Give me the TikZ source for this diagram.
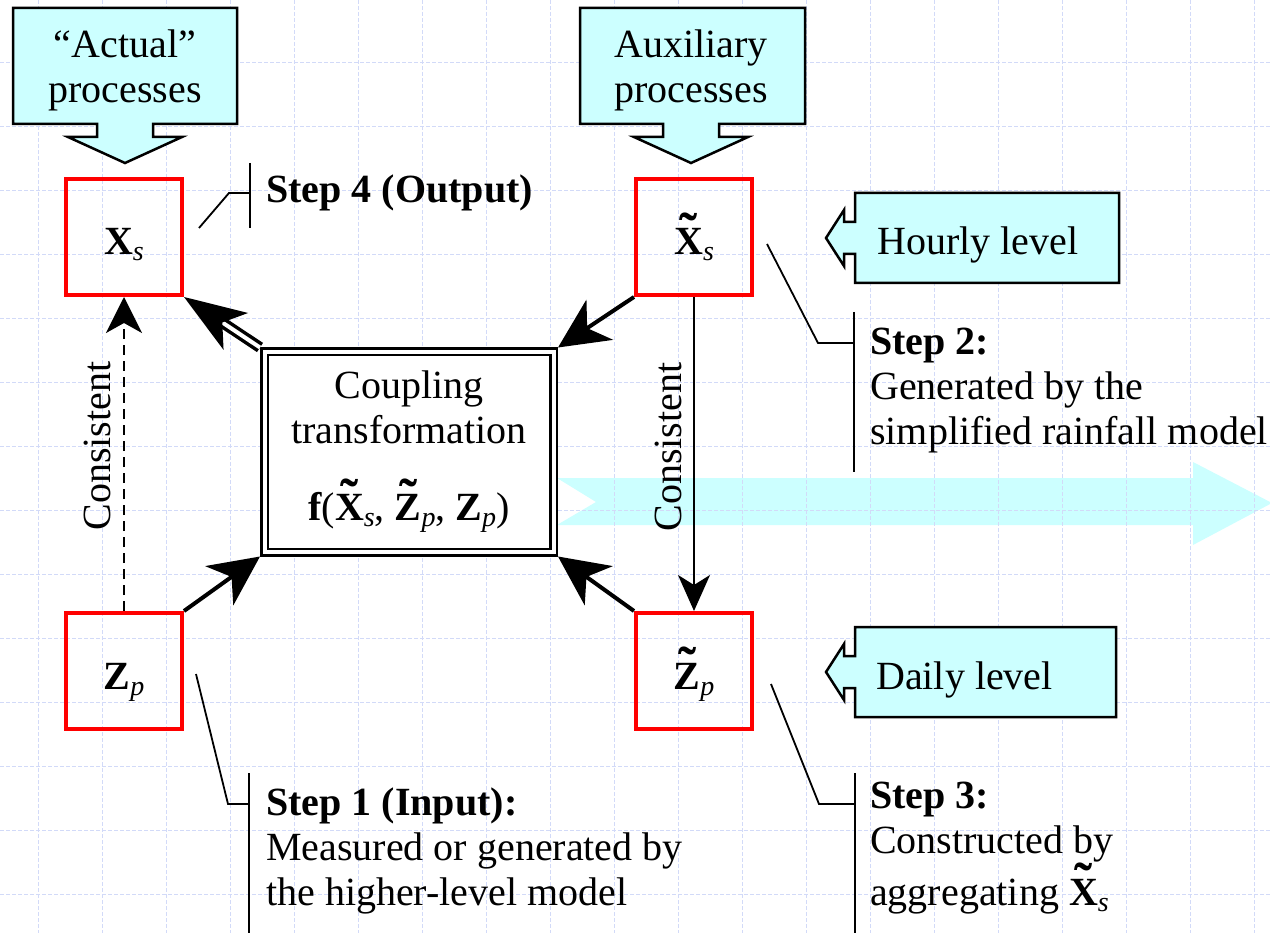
\documentclass[tikz,border=0pt]{standalone}
\usepackage{fontspec}
\setmainfont{Liberation Serif}
\usetikzlibrary{arrows.meta}
\definecolor{cyanfill}{HTML}{CCFFFF}
\definecolor{gridc}{HTML}{D2DAF8}
\newcommand{\sbs}[1]{\raisebox{-6pt}{\normalfont\itshape\fontsize{28}{28}\selectfont #1}}
\newcommand{\tld}[1]{\leavevmode\vbox{\offinterlineskip\halign{\hfil##\hfil\cr{\bfseries\fontsize{54}{54}\selectfont\char"02DC}\cr\noalign{\kern-22pt}{\bfseries #1}\cr}}}
\tikzset{
  redbox/.style={draw=red, line width=4pt, minimum width=116pt, minimum height=116pt, inner sep=0pt, text height=40pt, text depth=4pt},
  callout/.style={draw=black, line width=2.5pt, fill=cyanfill, line join=miter},
  gridline/.style={draw=gridc, line width=0.8pt, dash pattern=on 4pt off 2pt},
  lead/.style={draw=black, line width=1.8pt},
  bigarr/.style={line width=4pt, -{Stealth[length=50pt,width=48pt,inset=15pt]}},
  dblarr/.style={line width=3.5pt, double=white, double distance=4pt, -{Stealth[length=62pt,width=44pt,inset=16pt]}},
  dasharr/.style={line width=2pt, dash pattern=on 10pt off 6pt, -{Stealth[length=36pt,width=36pt,inset=10pt]}},
  thinarr/.style={line width=2pt, -{Stealth[length=36pt,width=32pt,inset=10pt]}},
  txt/.style={inner sep=0pt}
}
\begin{document}
\begin{tikzpicture}[x=1pt, y=-1pt, font=\fontsize{40}{45}\selectfont]
\useasboundingbox (0,0) rectangle (1270,933);
\fill[white] (0,0) rectangle (1270,933);
% big cyan arrow
\fill[cyanfill] (557,478) -- (1193,478) -- (1193,462) -- (1272,503) -- (1193,545) -- (1193,525) -- (557,525) -- (596,502) -- cycle;
% grid
\foreach \x in {38,102,...,1254} \draw[gridline] (\x,0) -- (\x,933);
\foreach \y in {62,126,...,894} \draw[gridline] (0,\y) -- (1270,\y);
% top callouts
\draw[callout] (13,8) -- (237,8) -- (237,124) -- (153,124) -- (153,137) -- (182,137) -- (125,163) -- (68,137) -- (97,137) -- (97,124) -- (13,124) -- cycle;
\node[align=center, txt] (act) at (125,70) {“Actual”\\processes};
\draw[callout] (580,8) -- (805,8) -- (805,124) -- (719,124) -- (719,137) -- (748,137) -- (691,163) -- (634,137) -- (663,137) -- (663,124) -- (580,124) -- cycle;
\node[align=center, txt] (aux) at (691,70) {Auxiliary\\processes};
% level callouts
\draw[callout] (855,193) -- (1119,193) -- (1119,283) -- (855,283) -- (855,254) -- (844,254) -- (844,266) -- (826,238) -- (844,210) -- (844,222) -- (855,222) -- cycle;
\node[anchor=base west, txt] (hour) at (877,255) {Hourly level};
\draw[callout] (855,627) -- (1116,627) -- (1116,717) -- (855,717) -- (855,688) -- (844,688) -- (844,700) -- (826,672) -- (844,644) -- (844,656) -- (855,656) -- cycle;
\node[anchor=base west, txt] (day) at (876,689) {Daily level};
% red boxes
\node[redbox] (xs) at (124,237) {{\bfseries X}\sbs{s}};
\node[redbox] (xt) at (694,237) {\tld{X}\sbs{s}};
\node[redbox] (zp) at (124,671) {{\bfseries Z}\sbs{p}};
\node[redbox] (zt) at (694,671) {\tld{Z}\sbs{p}};
% coupling box
\node[draw, double, line width=2.5pt, double distance=4pt, fill=white, minimum width=289pt, minimum height=200pt, align=center, inner sep=0pt, outer sep=4.5pt] (cp) at (409,452)
  {Coupling\\transformation\\[32pt]{\bfseries f}(\tld{X}\sbs{s}, \tld{Z}\sbs{p}, {\bfseries Z}\sbs{p})};
% arrows
\draw[bigarr] (xt.south west) -- (cp.north east);
\draw[bigarr] (zp.north east) -- (cp.south west);
\draw[bigarr] (zt.north west) -- (cp.south east);
\draw[dblarr] (cp.north west) -- (xs.south east);
\draw[dasharr] (zp.north) -- (xs.south);
\draw[thinarr] (xt.south) -- (zt.north);
\node[rotate=90] (c1) at (97,446) {Consistent};
\node[rotate=90] (c2) at (668,447) {Consistent};
% step labels (base = last line)
\node[anchor=base west, txt] (s4) at (266,203) {\textbf{Step 4 (Output)}};
\node[anchor=base west, align=left, txt] (s2) at (870,445) {\textbf{Step 2:}\\Generated by the\\simplified rainfall model};
\node[anchor=base west, align=left, txt] (s1) at (266,905) {\textbf{Step 1 (Input):}\\Measured or generated by\\the higher-level model};
\node[anchor=base west, align=left, txt] (s3) at (870,905) {\textbf{Step 3:}\\Constructed by\\aggregating \tld{X}\sbs{s}};
% leader lines
\coordinate (l4a) at (199,228); \coordinate (l4b) at (229,193); \coordinate (l4c) at (250,193);
\coordinate (b4t) at (250,163); \coordinate (b4b) at (250,228);
\draw[lead] (l4a) -- (l4b) -- (l4c);
\draw[lead] (b4t) -- (b4b);
\coordinate (l2a) at (767,244); \coordinate (l2b) at (818,343); \coordinate (l2c) at (854,343);
\coordinate (b2t) at (854,312); \coordinate (b2b) at (854,472);
\draw[lead] (l2a) -- (l2b) -- (l2c);
\draw[lead] (b2t) -- (b2b);
\coordinate (l1a) at (196,674); \coordinate (l1b) at (228,804); \coordinate (l1c) at (249,804);
\coordinate (b1t) at (249,773); \coordinate (b1b) at (249,933);
\draw[lead] (l1a) -- (l1b) -- (l1c);
\draw[lead] (b1t) -- (b1b);
\coordinate (l3a) at (771,684); \coordinate (l3b) at (819,804); \coordinate (l3c) at (855,804);
\coordinate (b3t) at (855,773); \coordinate (b3b) at (855,933);
\draw[lead] (l3a) -- (l3b) -- (l3c);
\draw[lead] (b3t) -- (b3b);
\end{tikzpicture}
\end{document}
